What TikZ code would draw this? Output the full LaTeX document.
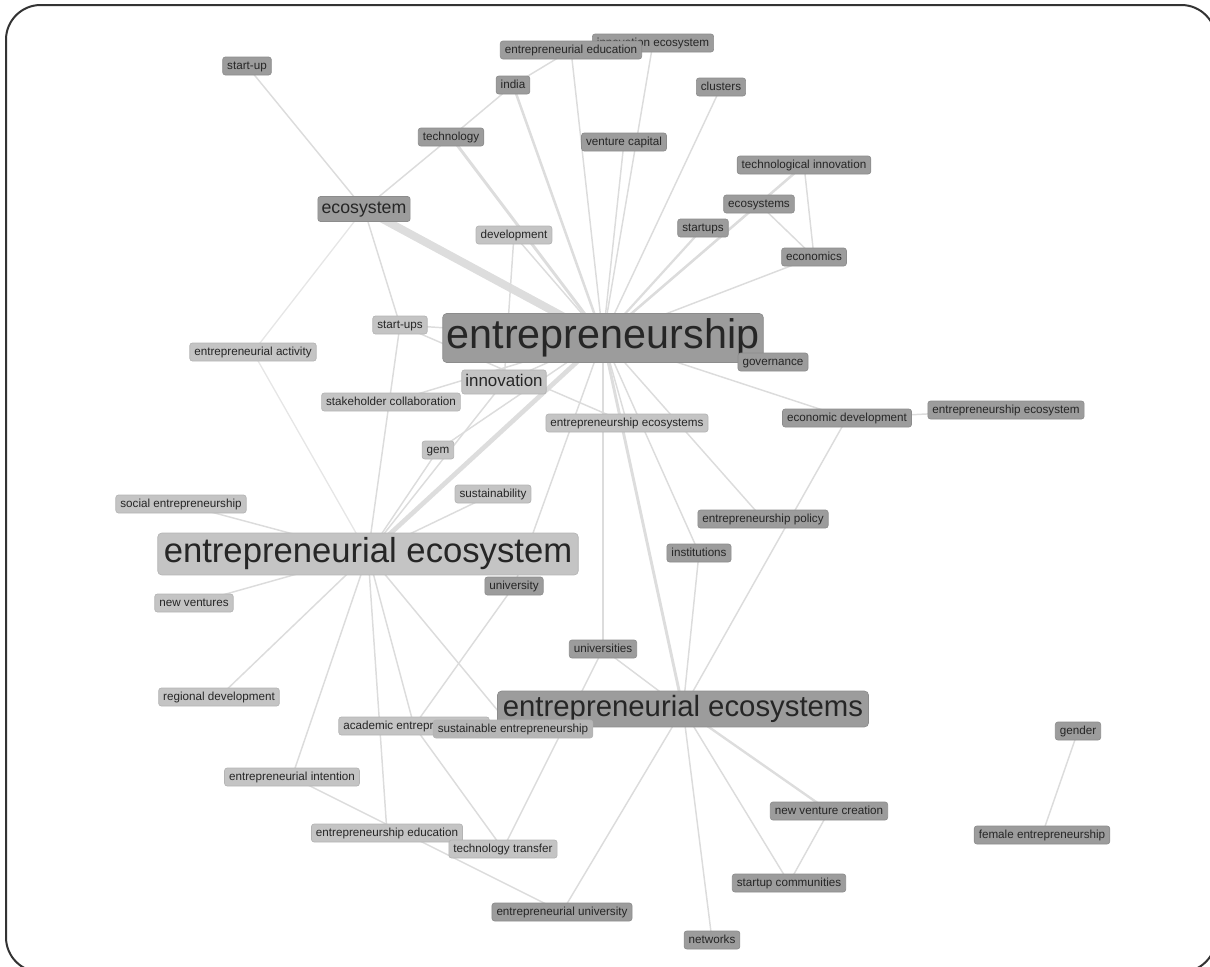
\documentclass[tikz,border=0pt]{standalone}
\usepackage{fontspec}
\setmainfont{Liberation Sans}
\pgfdeclarelayer{bg}
\pgfsetlayers{bg,main}
\definecolor{boxdark}{HTML}{9C9C9C}
\definecolor{boxdarkline}{HTML}{8C8C8C}
\definecolor{boxlight}{HTML}{C4C4C4}
\definecolor{boxlightline}{HTML}{B4B4B4}
\definecolor{boxmid}{HTML}{B6B6B6}
\definecolor{labtext}{HTML}{262626}
\definecolor{edgecol}{HTML}{DCDCDC}
\definecolor{edgethick}{HTML}{DDDDDD}
\definecolor{framecol}{HTML}{333333}
\tikzset{
  tg/.style={rounded corners=2pt, line width=0.5pt, text=labtext, inner xsep=3.4pt, inner ysep=2.6pt,
    text height=6.4pt, text depth=1.9pt, font=\fontsize{8.75}{10}\selectfont},
  dk/.style={fill=boxdark, draw=boxdarkline},
  lt/.style={fill=boxlight, draw=boxlightline},
  md/.style={fill=boxmid, draw=boxlightline},
  bigA/.style={tg, font=\fontsize{31}{34}\selectfont, text height=22.3pt, text depth=6.5pt, inner ysep=4pt, inner xsep=3pt, rounded corners=3pt},
  bigB/.style={tg, font=\fontsize{26}{30}\selectfont, text height=18.7pt, text depth=5.5pt, inner ysep=3.6pt, inner xsep=4.5pt, rounded corners=3pt},
  bigC/.style={tg, font=\fontsize{22}{26}\selectfont, text height=15.9pt, text depth=4.6pt, inner ysep=3.2pt, inner xsep=4pt, rounded corners=3pt},
  midA/.style={tg, font=\fontsize{13.3}{15}\selectfont, text height=9.6pt, text depth=2.8pt, inner ysep=3.2pt, inner xsep=2.8pt},
  midB/.style={tg, font=\fontsize{12.7}{15}\selectfont, text height=9.2pt, text depth=2.7pt, inner ysep=3.1pt, inner xsep=2.7pt},
  ed/.style={draw=edgecol, line width=1.1pt},
  edl/.style={draw=edgecol!70!white, line width=1pt},
  edw/.style={draw=edgethick, line width=#1},
}
\begin{document}
\begin{tikzpicture}[x=0.75pt, y=-0.75pt]
\useasboundingbox (0,0) rectangle (1210,967);
\draw[framecol, line width=1.5pt, rounded corners=26pt] (6,5) rectangle (1216,972);

% nodes
\node[tg,dk] (startup) at (247,66) {start-up};
\node[tg,dk] (innoeco) at (653,43) {innovation ecosystem};
\node[tg,dk] (enteduc) at (571,50) {entrepreneurial education};
\node[tg,dk] (india) at (513,85) {india};
\node[tg,dk] (clusters) at (721,87) {clusters};
\node[tg,dk] (technology) at (451,137) {technology};
\node[tg,dk] (vc) at (624,142) {venture capital};
\node[tg,dk] (techinno) at (804,165) {technological innovation};
\node[midA,dk] (ecosystem) at (364,209) {ecosystem};
\node[tg,dk] (ecosystems) at (759,204) {ecosystems};
\node[tg,dk] (startups) at (703,228) {startups};
\node[tg,lt] (development) at (514,235) {development};
\node[tg,dk] (economics) at (814,257) {economics};
\node[bigA,dk] (ent) at (603,338) {entrepreneurship};
\node[tg,lt] (startupsB) at (400,325) {start-ups};
\node[tg,lt] (entact) at (253,352) {entrepreneurial activity};
\node[tg,dk] (governance) at (773,362) {governance};
\node[midB,lt] (innovation) at (504,382) {innovation};
\node[tg,lt] (stake) at (391,402) {stakeholder collaboration};
\node[tg,dk] (econdev) at (847,418) {economic development};
\node[tg,dk] (entshipeco) at (1006,410) {entrepreneurship ecosystem};
\node[tg,lt] (entshipecos) at (627,423) {entrepreneurship ecosystems};
\node[tg,lt] (gem) at (438,450) {gem};
\node[tg,lt] (sustainability) at (493,494) {sustainability};
\node[tg,lt] (socent) at (181,504) {social entrepreneurship};
\node[tg,dk] (policy) at (763,519) {entrepreneurship policy};
\node[bigB,lt] (enteco) at (368,554) {entrepreneurial ecosystem};
\node[tg,dk] (institutions) at (699,553) {institutions};
\node[tg,dk] (university) at (514,586) {university};
\node[tg,lt] (newventures) at (194,603) {new ventures};
\node[tg,dk] (universities) at (603,649) {universities};
\node[tg,lt] (regdev) at (219,697) {regional development};
\node[bigC,dk] (entecos) at (683,709) {entrepreneurial ecosystems};
\node[tg,lt] (academic) at (414,726) {academic entrepreneurship};
\node[tg,md] (sustent) at (513,729) {sustainable entrepreneurship};
\node[tg,dk] (gender) at (1078,731) {gender};
\node[tg,lt] (intention) at (292,777) {entrepreneurial intention};
\node[tg,dk] (nvc) at (829,811) {new venture creation};
\node[tg,lt] (educ) at (387,833) {entrepreneurship education};
\node[tg,dk] (female) at (1042,835) {female entrepreneurship};
\node[tg,lt] (techtransfer) at (503,849) {technology transfer};
\node[tg,dk] (startcomm) at (789,883) {startup communities};
\node[tg,dk] (entuniv) at (562,912) {entrepreneurial university};
\node[tg,dk] (networks) at (712,940) {networks};

% edges
\begin{pgfonlayer}{bg}
\draw[edw=6pt] (ecosystem.center) -- (ent.center);
\draw[edw=3.5pt] (enteco.center) -- (ent.center);
\draw[edw=2.2pt] (technology.center) -- (ent.center);
\draw[edw=1.9pt] (india.center) -- (ent.center);
\draw[edw=1.9pt] (techinno.center) -- (ent.center);
\draw[edw=1.7pt] (startups.center) -- (ent.center);
\draw[edw=2.2pt] (entecos.center) -- (ent.center);
\draw[edw=1.8pt] (nvc.center) -- (entecos.center);
\foreach \a/\b in {startup/ecosystem, technology/ecosystem, india/technology, india/enteduc,
  enteduc/ent, innoeco/ent, vc/ent, clusters/ent, ecosystems/ent, economics/ent,
  techinno/economics, ecosystems/economics, development/ent, development/innovation,
  startupsB/ent, startupsB/entshipecos, ecosystem/startupsB, startupsB/enteco,
  governance/ent, innovation/ent, stake/ent, econdev/ent, entshipeco/econdev,
  econdev/entecos, entshipecos/ent, gem/ent, gem/enteco, sustainability/enteco,
  innovation/enteco, policy/ent, institutions/ent, institutions/entecos,
  university/ent, university/academic, universities/ent, universities/entecos,
  universities/techtransfer, socent/enteco, newventures/enteco, regdev/enteco,
  intention/enteco, educ/enteco, academic/enteco, sustent/enteco,
  academic/techtransfer, intention/entuniv, entuniv/entecos, startcomm/entecos,
  networks/entecos, nvc/startcomm, gender/female}
  \draw[ed] (\a.center) -- (\b.center);
\foreach \a/\b in {ecosystem/entact, entact/enteco}
  \draw[edl] (\a.center) -- (\b.center);
\end{pgfonlayer}
\end{tikzpicture}
\end{document}
